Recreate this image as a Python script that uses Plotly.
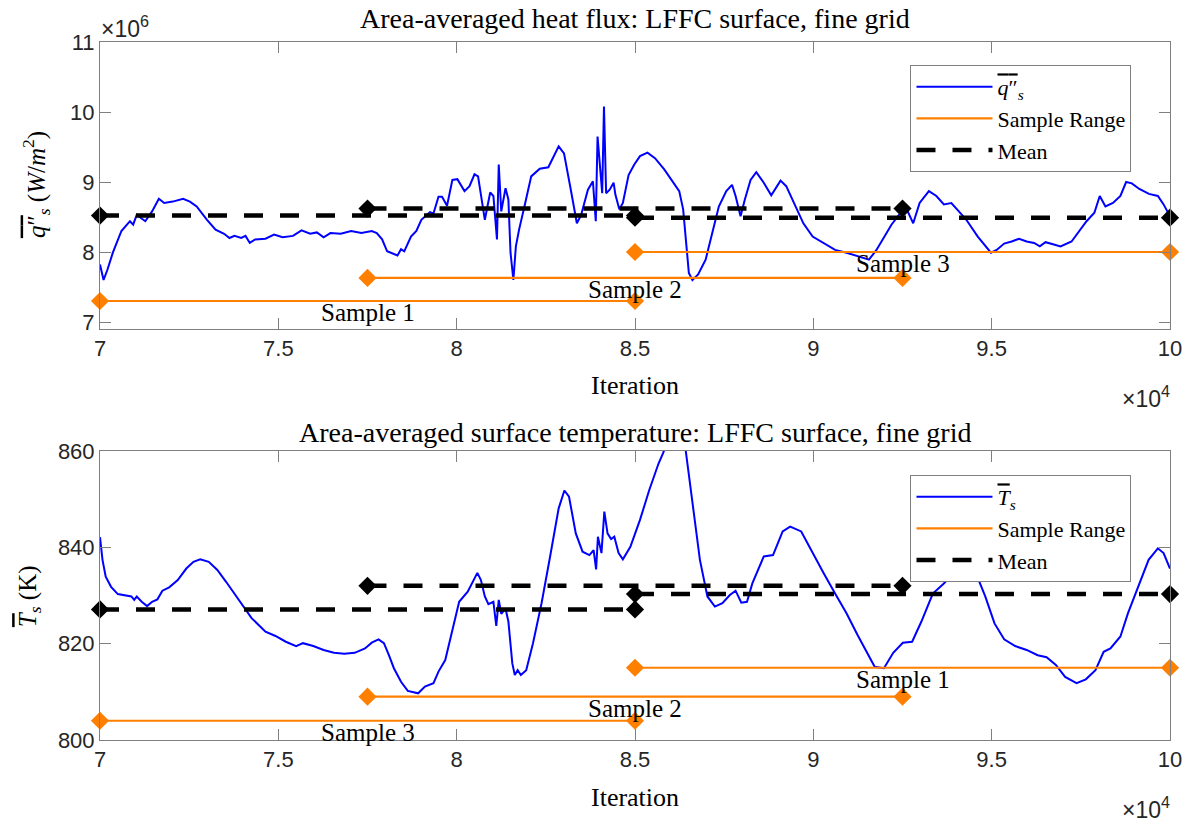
import plotly.graph_objects as go

# ---- Area-averaged heat flux (iteration in 1e4, flux in 1e6 W/m^2) ----
flux_iter = [7.000, 7.010, 7.021, 7.036, 7.060, 7.084, 7.093, 7.103, 7.127, 7.146,
             7.165, 7.180, 7.204, 7.233, 7.252, 7.271, 7.300, 7.324, 7.348, 7.363,
             7.377, 7.396, 7.408, 7.420, 7.435, 7.464, 7.488, 7.512, 7.541, 7.565,
             7.589, 7.608, 7.627, 7.646, 7.675, 7.704, 7.733, 7.762, 7.776, 7.791,
             7.805, 7.820, 7.834, 7.844, 7.853, 7.872, 7.887, 7.901, 7.925, 7.935,
             7.949, 7.959, 7.973, 7.988, 8.002, 8.022, 8.036, 8.050, 8.060, 8.079,
             8.094, 8.103, 8.113, 8.118, 8.125, 8.137, 8.145, 8.151, 8.159, 8.166,
             8.175, 8.190, 8.209, 8.233, 8.257, 8.286, 8.301, 8.320, 8.337, 8.349,
             8.368, 8.382, 8.390, 8.395, 8.403, 8.408, 8.413, 8.419, 8.429, 8.440,
             8.445, 8.456, 8.466, 8.482, 8.498, 8.514, 8.535, 8.556, 8.582, 8.608,
             8.624, 8.635, 8.642, 8.651, 8.661, 8.677, 8.698, 8.714, 8.735, 8.756,
             8.772, 8.782, 8.796, 8.808, 8.824, 8.840, 8.861, 8.882, 8.908, 8.924,
             8.945, 8.972, 8.998, 9.029, 9.061, 9.093, 9.124, 9.156, 9.177, 9.198,
             9.219, 9.240, 9.262, 9.280, 9.298, 9.324, 9.345, 9.366, 9.387, 9.408,
             9.429, 9.461, 9.482, 9.498, 9.514, 9.535, 9.556, 9.577, 9.598, 9.619,
             9.635, 9.651, 9.672, 9.693, 9.724, 9.751, 9.766, 9.788, 9.803, 9.819,
             9.840, 9.861, 9.877, 9.893, 9.914, 9.941, 9.966, 9.982, 10.000]
flux_val = [7.82, 7.60, 7.75, 7.99, 8.30, 8.44, 8.39, 8.53, 8.44, 8.58,
            8.76, 8.70, 8.72, 8.76, 8.72, 8.65, 8.46, 8.32, 8.26, 8.20,
            8.23, 8.20, 8.23, 8.13, 8.18, 8.19, 8.25, 8.21, 8.23, 8.31,
            8.26, 8.28, 8.21, 8.27, 8.26, 8.30, 8.27, 8.30, 8.27, 8.18,
            8.01, 7.98, 7.95, 8.04, 8.01, 8.22, 8.30, 8.46, 8.57, 8.55,
            8.79, 8.79, 8.66, 9.03, 9.04, 8.87, 8.94, 9.11, 9.08, 8.46,
            8.85, 8.80, 8.18, 9.25, 8.58, 8.91, 8.75, 7.99, 7.60, 8.08,
            8.32, 8.65, 9.08, 9.19, 9.21, 9.51, 9.41, 8.89, 8.41, 8.53,
            8.89, 9.01, 8.44, 9.65, 9.06, 8.84, 10.08, 8.84, 8.89, 8.99,
            8.82, 8.61, 8.70, 9.10, 9.25, 9.37, 9.42, 9.34, 9.18, 8.99,
            8.87, 8.61, 8.18, 7.70, 7.60, 7.68, 7.89, 8.22, 8.65, 8.87,
            8.96, 8.80, 8.51, 8.75, 9.03, 9.14, 8.99, 8.81, 9.02, 8.94,
            8.70, 8.41, 8.22, 8.13, 8.03, 7.99, 7.94, 7.89, 8.03, 8.22,
            8.39, 8.53, 8.61, 8.41, 8.70, 8.87, 8.80, 8.68, 8.70, 8.58,
            8.46, 8.22, 8.08, 7.99, 8.03, 8.12, 8.15, 8.19, 8.15, 8.13,
            8.08, 8.14, 8.11, 8.08, 8.15, 8.34, 8.44, 8.56, 8.80, 8.65,
            8.70, 8.80, 9.00, 8.98, 8.90, 8.83, 8.80, 8.68, 8.51]

# ---- Area-averaged surface temperature (iteration in 1e4, K) ----
temp_iter = [7.000, 7.007, 7.016, 7.031, 7.050, 7.069, 7.088, 7.096, 7.103, 7.117,
             7.132, 7.146, 7.161, 7.175, 7.194, 7.218, 7.242, 7.262, 7.281, 7.305,
             7.329, 7.353, 7.377, 7.401, 7.425, 7.464, 7.492, 7.521, 7.550, 7.569,
             7.598, 7.627, 7.656, 7.685, 7.714, 7.743, 7.762, 7.781, 7.796, 7.810,
             7.824, 7.844, 7.863, 7.892, 7.911, 7.935, 7.949, 7.968, 7.988, 8.007,
             8.031, 8.046, 8.058, 8.068, 8.079, 8.089, 8.103, 8.111, 8.118, 8.125,
             8.137, 8.145, 8.156, 8.163, 8.171, 8.180, 8.195, 8.214, 8.238, 8.262,
             8.286, 8.302, 8.315, 8.334, 8.353, 8.372, 8.384, 8.391, 8.396, 8.406,
             8.414, 8.423, 8.433, 8.442, 8.454, 8.466, 8.487, 8.514, 8.540, 8.566,
             8.579, 8.600, 8.620, 8.642, 8.661, 8.682, 8.703, 8.724, 8.745, 8.766,
             8.782, 8.798, 8.814, 8.829, 8.861, 8.887, 8.914, 8.935, 8.966, 8.998,
             9.029, 9.061, 9.093, 9.124, 9.151, 9.172, 9.198, 9.224, 9.251, 9.277,
             9.303, 9.335, 9.366, 9.393, 9.414, 9.435, 9.456, 9.482, 9.508, 9.535,
             9.566, 9.598, 9.629, 9.654, 9.680, 9.706, 9.738, 9.764, 9.791, 9.814,
             9.833, 9.861, 9.882, 9.914, 9.940, 9.966, 9.982, 10.000]
temp_val = [842.1, 837.4, 833.9, 831.8, 830.3, 830.0, 829.8, 829.1, 829.8, 828.7,
            827.8, 828.7, 829.2, 831.0, 831.7, 833.2, 835.6, 837.0, 837.5, 837.0,
            835.3, 832.9, 830.4, 828.0, 825.3, 822.5, 821.6, 820.4, 819.5, 820.1,
            819.5, 818.7, 818.1, 817.9, 818.1, 819.0, 820.2, 820.9, 820.1, 817.6,
            814.9, 812.1, 810.2, 809.7, 811.1, 811.8, 814.2, 816.6, 822.8, 828.7,
            830.8, 832.9, 834.7, 833.2, 829.8, 828.2, 828.7, 823.7, 829.1, 826.2,
            827.3, 824.6, 815.9, 813.5, 814.5, 813.5, 814.5, 820.1, 828.4, 838.1,
            848.1, 851.8, 850.5, 842.9, 839.1, 838.4, 839.4, 835.4, 842.2, 838.8,
            847.4, 842.9, 841.7, 842.2, 838.8, 837.5, 840.1, 845.7, 851.9, 857.4,
            859.6, 864.0, 865.0, 860.2, 849.8, 837.4, 829.8, 827.7, 828.4, 830.1,
            831.0, 828.5, 828.7, 832.5, 838.1, 838.4, 843.3, 844.3, 843.3, 838.8,
            834.6, 830.4, 826.3, 821.8, 818.0, 815.2, 814.9, 818.1, 820.2, 820.4,
            824.6, 830.4, 832.5, 834.7, 835.8, 836.1, 834.6, 829.8, 824.2, 820.9,
            819.5, 818.7, 817.6, 817.2, 815.6, 813.1, 811.8, 812.6, 814.5, 818.3,
            819.0, 821.5, 826.3, 832.5, 837.4, 839.8, 838.8, 835.6]

assert len(flux_iter) == len(flux_val)
assert len(temp_iter) == len(temp_val)

# ---- Sampling windows (iteration in 1e4) ----
sample_start = [7.00, 7.75, 8.50]
sample_end = [8.50, 9.25, 10.00]

flux_sample_names = ["Sample 1", "Sample 2", "Sample 3"]
flux_means = [8.52, 8.62, 8.49]        # 1e6 W/m^2
flux_range_level = [7.30, 7.63, 8.00]  # 1e6 W/m^2

temp_sample_names = ["Sample 3", "Sample 2", "Sample 1"]
temp_means = [827.1, 832.0, 830.3]     # K
temp_range_level = [804.0, 809.0, 815.0]  # K

x_ticks = [7, 7.5, 8, 8.5, 9, 9.5, 10]
flux_ticks = [7, 8, 9, 10, 11]
temp_ticks = [800, 820, 840, 860]

BLUE = "rgb(0,0,255)"
ORANGE = "rgb(255,128,0)"
AXIS_GRAY = "#7f7f7f"
TICK_TXT = "#262626"
SERIF = "Liberation Serif"
SANS = "Liberation Sans"

X_SCALE = 1e4
Q_SCALE = 1e6

q_sym = "<span style='text-decoration:overline'><i>q</i>\u2033</span><sub><i>s</i></sub>"
t_sym = "<span style='text-decoration:overline'><i>T</i></span><sub><i>s</i></sub>"


def segments(starts, ends, levels, scale_y=1.0):
    xs, ys = [], []
    for s, e, lv in zip(starts, ends, levels):
        xs += [s * X_SCALE, e * X_SCALE, None]
        ys += [lv * scale_y, lv * scale_y, None]
    return xs, ys


def endpoints(starts, ends, levels, scale_y=1.0):
    xs, ys = [], []
    for s, e, lv in zip(starts, ends, levels):
        xs += [s * X_SCALE, e * X_SCALE]
        ys += [lv * scale_y, lv * scale_y]
    return xs, ys


fig = go.Figure()


def add_panel(xa, ya, legend, iters, vals, y_scale, sym, ranges, means):
    fig.add_trace(go.Scatter(
        x=[v * X_SCALE for v in iters], y=[v * y_scale for v in vals],
        mode="lines", line=dict(color=BLUE, width=2), name=sym,
        xaxis=xa, yaxis=ya, legend=legend))
    rx, ry = segments(sample_start, sample_end, ranges, y_scale)
    fig.add_trace(go.Scatter(
        x=rx, y=ry, mode="lines", line=dict(color=ORANGE, width=2.2),
        name="Sample Range", xaxis=xa, yaxis=ya, legend=legend))
    mx, my = segments(sample_start, sample_end, means, y_scale)
    fig.add_trace(go.Scatter(
        x=mx, y=my, mode="lines",
        line=dict(color="black", width=4.5, dash="19px,17px"),
        name="Mean", xaxis=xa, yaxis=ya, legend=legend))
    px, py = endpoints(sample_start, sample_end, ranges, y_scale)
    fig.add_trace(go.Scatter(
        x=px, y=py, mode="markers", showlegend=False,
        marker=dict(symbol="diamond", size=14, color=ORANGE),
        xaxis=xa, yaxis=ya, cliponaxis=False))
    px, py = endpoints(sample_start, sample_end, means, y_scale)
    fig.add_trace(go.Scatter(
        x=px, y=py, mode="markers", showlegend=False,
        marker=dict(symbol="diamond", size=14, color="black"),
        xaxis=xa, yaxis=ya, cliponaxis=False))


add_panel("x", "y", "legend", flux_iter, flux_val, Q_SCALE, q_sym,
          flux_range_level, flux_means)
add_panel("x2", "y2", "legend2", temp_iter, temp_val, 1.0, t_sym,
          temp_range_level, temp_means)

# sample labels below each range line
annotations = []
for s, e, lv, name in zip(sample_start, sample_end, flux_range_level, flux_sample_names):
    annotations.append(dict(x=(s + e) / 2 * X_SCALE, y=lv * Q_SCALE, xref="x", yref="y",
                            text=name, showarrow=False, yanchor="top", yshift=4,
                            font=dict(family=SERIF, size=25, color="black")))
for s, e, lv, name in zip(sample_start, sample_end, temp_range_level, temp_sample_names):
    annotations.append(dict(x=(s + e) / 2 * X_SCALE, y=lv, xref="x2", yref="y2",
                            text=name, showarrow=False, yanchor="top", yshift=4,
                            font=dict(family=SERIF, size=25, color="black")))

L, R, T, B = 100, 22, 42, 83
W, H = 1194, 823
PW, PH = W - L - R, H - T - B


def paper_x(px):
    return (px - L) / PW


def paper_y(py):
    return (H - B - py) / PH


def text_ann(px, py, text, size=23, family=SERIF, color="black", xanchor="center",
             yanchor="middle", angle=0):
    return dict(x=paper_x(px), y=paper_y(py), xref="paper", yref="paper", text=text,
                showarrow=False, xanchor=xanchor, yanchor=yanchor, textangle=angle,
                font=dict(family=family, size=size, color=color))


annotations += [
    text_ann(636, 19, "Area-averaged heat flux: LFFC surface, fine grid", size=28),
    text_ann(636, 432, "Area-averaged surface temperature: LFFC surface, fine grid",
             size=28),
    text_ann(636, 385, "Iteration", size=26),
    text_ann(636, 797, "Iteration", size=26),
    text_ann(36, 185, q_sym + " (<i>W</i>/<i>m</i><sup>2</sup>)", size=25, angle=-90),
    text_ann(29, 596, t_sym + " (K)", size=25, angle=-90),
    text_ann(99, 27, "\u00d710<sup>6</sup>", size=23, family=SANS, color=TICK_TXT,
             xanchor="left"),
    text_ann(1174, 397, "\u00d710<sup>4</sup>", size=23, family=SANS, color=TICK_TXT,
             xanchor="right"),
    text_ann(1174, 808, "\u00d710<sup>4</sup>", size=23, family=SANS, color=TICK_TXT,
             xanchor="right"),
]

axis_common = dict(showline=True, linecolor=AXIS_GRAY, linewidth=1, mirror="ticks",
                   ticks="inside", ticklen=11, tickwidth=1, tickcolor=AXIS_GRAY,
                   showgrid=False, zeroline=False,
                   tickfont=dict(family=SANS, size=22, color=TICK_TXT))

top_dom = [paper_y(329), 1.0]
bot_dom = [0.0, paper_y(451)]

legend_common = dict(xanchor="left", yanchor="top", bgcolor="white",
                     bordercolor=AXIS_GRAY, borderwidth=1, itemwidth=76,
                     tracegroupgap=0,
                     font=dict(family=SERIF, size=22, color="black"))

fig.update_layout(
    width=W, height=H,
    margin=dict(l=L, r=R, t=T, b=B),
    paper_bgcolor="white", plot_bgcolor="white",
    showlegend=True,
    legend=dict(x=paper_x(912), y=paper_y(65), **legend_common),
    legend2=dict(x=paper_x(912), y=paper_y(475), **legend_common),
    xaxis=dict(anchor="y", domain=[0, 1], range=[7 * X_SCALE, 10 * X_SCALE],
               tickvals=[v * X_SCALE for v in x_ticks],
               ticktext=[f"{v:g}" for v in x_ticks], **axis_common),
    yaxis=dict(anchor="x", domain=top_dom, range=[6.9 * Q_SCALE, 11 * Q_SCALE],
               tickvals=[v * Q_SCALE for v in flux_ticks],
               ticktext=[f"{v:g}" for v in flux_ticks], **axis_common),
    xaxis2=dict(anchor="y2", domain=[0, 1], range=[7 * X_SCALE, 10 * X_SCALE],
                tickvals=[v * X_SCALE for v in x_ticks],
                ticktext=[f"{v:g}" for v in x_ticks], **axis_common),
    yaxis2=dict(anchor="x2", domain=bot_dom, range=[800, 860],
                tickvals=temp_ticks, ticktext=[str(v) for v in temp_ticks],
                **axis_common),
    annotations=annotations,
)

fig.write_html("out.html")
